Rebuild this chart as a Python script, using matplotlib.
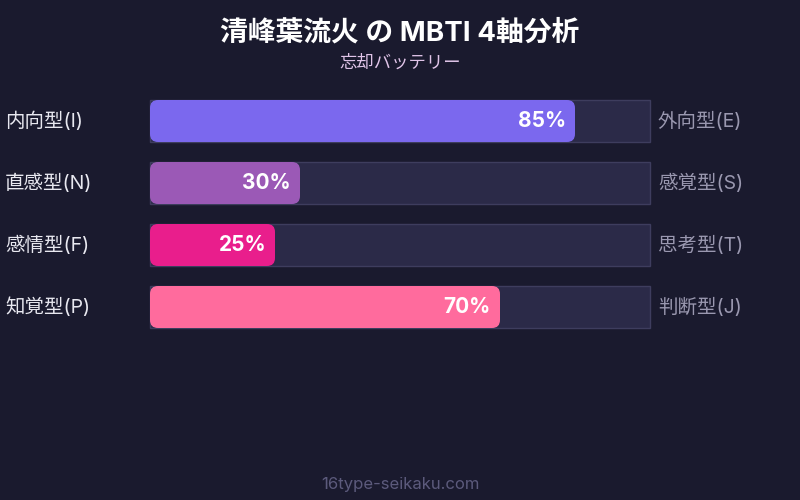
import matplotlib
matplotlib.use('Agg')
import matplotlib.pyplot as plt
from matplotlib.patches import FancyBboxPatch, Rectangle

plt.rcParams['font.family'] = ['Inter', 'Noto Sans CJK JP', 'DejaVu Sans']

title = '清峰葉流火 の MBTI 4軸分析'
subtitle = '忘却バッテリー'
left_labels = ['内向型(I)', '直感型(N)', '感情型(F)', '知覚型(P)']
right_labels = ['外向型(E)', '感覚型(S)', '思考型(T)', '判断型(J)']
values = [85, 30, 25, 70]
colors = ['#7b68ee', '#9b59b6', '#e91e8c', '#ff6b9d']

bg = '#1a1a2e'
fig = plt.figure(figsize=(8, 5), dpi=100, facecolor=bg)

# bar area: x 150..650 px, rows centred at 121 + 62*i px
ax = fig.add_axes([150 / 800, 1 - 338 / 500, 500 / 800, 248 / 500])
ax.set_facecolor('none')
ax.set_xlim(0, 100)
ax.set_ylim(3.5, -0.5)
ax.axis('off')

h = 42 / 62
for i, (v, c) in enumerate(zip(values, colors)):
    ax.add_patch(Rectangle((0, i - h / 2), 100, h, facecolor='#2b2a48',
                           edgecolor='#3e3d5e', linewidth=1, clip_on=False))
    ax.add_patch(FancyBboxPatch((0, i - h / 2), v, h,
                                boxstyle='round,pad=0,rounding_size=1.6',
                                mutation_aspect=5 / 62, facecolor=c,
                                edgecolor='none', clip_on=False))
    ax.text(v - 1.8, i, f'{v}%', ha='right', va='center', color='white',
            fontsize=15, fontweight='bold')
    ax.text(-29, i, left_labels[i], ha='left', va='center', color='#e8e8f0',
            fontsize=14)
    ax.text(101.6, i, right_labels[i], ha='left', va='center', color='#9a98b0',
            fontsize=14)

fig.text(0.5, 1 - 33 / 500, title, ha='center', va='center', color='white',
         fontsize=20, fontweight='bold')
fig.text(0.5, 1 - 63 / 500, subtitle, ha='center', va='center', color='#e0c4e8',
         fontsize=12.5)
fig.text(0.5, 1 - 484 / 500, '16type-seikaku.com', ha='center', va='center',
         color='#5c5a7c', fontsize=12)

fig.savefig('out.png', dpi=100, facecolor=bg)
